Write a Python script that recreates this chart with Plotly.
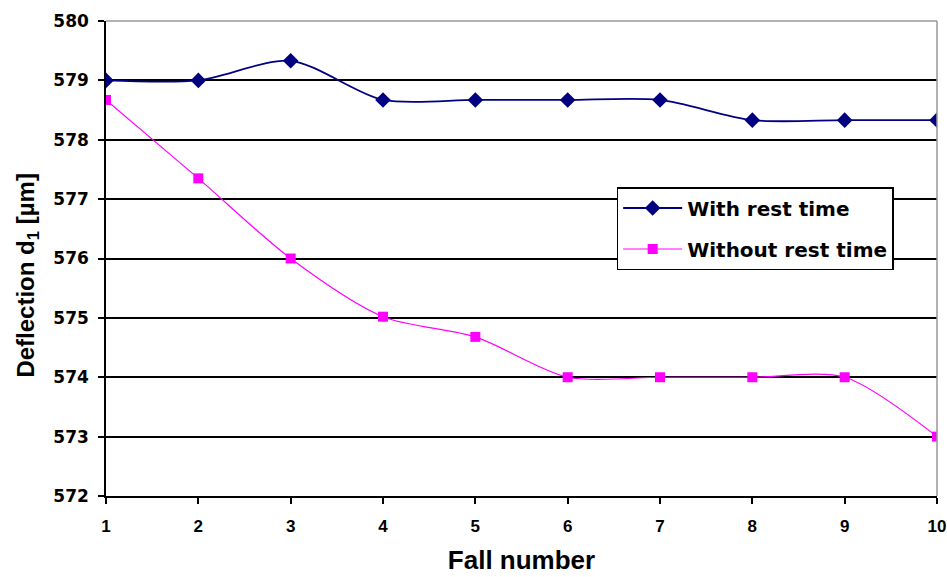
import plotly.graph_objects as go

fall_number = [1, 2, 3, 4, 5, 6, 7, 8, 9, 10]
with_rest = [579.0, 579.0, 579.33, 578.67, 578.67, 578.67, 578.67, 578.33, 578.33, 578.33]
without_rest = [578.67, 577.35, 576.0, 575.02, 574.68, 574.0, 574.0, 574.0, 574.0, 573.0]
y_ticks = [572, 573, 574, 575, 576, 577, 578, 579, 580]

FONT = "DejaVu Sans, Liberation Sans, Arial, sans-serif"
ARIAL = "Liberation Sans, Arial, sans-serif"

fig = go.Figure()
fig.add_trace(go.Scatter(
    x=fall_number, y=with_rest, name="With rest time", legendgroup="a",
    mode="lines+markers", line=dict(color="#000080", width=1.8, shape="spline", smoothing=0.8),
    marker=dict(symbol="diamond", size=12, color="#000080"),
))
fig.add_trace(go.Scatter(
    x=fall_number, y=without_rest, name="Without rest time", legendgroup="b",
    mode="lines+markers", line=dict(color="#ff00ff", width=1.2, shape="spline", smoothing=0.8),
    marker=dict(symbol="square", size=10, color="#ff00ff"),
))

fig.update_layout(
    width=947, height=577,
    margin=dict(l=106, r=10, t=21, b=81),
    paper_bgcolor="white", plot_bgcolor="white",
    font=dict(family=FONT, size=17, color="black", weight="bold"),
    showlegend=True,
    legend=dict(
        x=0.6145, y=0.6505, xanchor="left", yanchor="top",
        bordercolor="black", borderwidth=1.5, bgcolor="white",
        font=dict(size=20, family=FONT, weight="bold"),
        tracegroupgap=12, traceorder="grouped", itemwidth=59,
    ),
    xaxis=dict(
        range=[1, 10], tickvals=fall_number, ticktext=[str(v) for v in fall_number],
        showgrid=False, zeroline=False, automargin=False,
        showline=True, linecolor="black", linewidth=1.5,
        ticks="outside", ticklen=6, tickcolor="black", tickwidth=1.5,
        ticklabelstandoff=8, ticklabeloverflow="allow",
        title=dict(text="Fall number", font=dict(family=ARIAL, size=26, weight="bold"), standoff=16),
        tickfont=dict(family=ARIAL, size=17, weight="bold"),
    ),
    yaxis=dict(
        range=[572, 580], tickvals=y_ticks, ticktext=[str(v) for v in y_ticks],
        showgrid=True, gridcolor="black", gridwidth=1.5, zeroline=False, automargin=False,
        showline=True, linecolor="black", linewidth=1.5,
        ticks="outside", ticklen=6, tickcolor="black", tickwidth=1.5,
        ticklabelstandoff=6,
        tickfont=dict(size=17, weight="bold"),
    ),
)

# y-axis title (placed slightly below the axis centre, as in the original)
fig.add_annotation(
    text="Deflection d<sub>1</sub> [µm]", textangle=-90,
    xref="paper", yref="paper", x=-0.0945, y=0.465,
    xanchor="center", yanchor="middle", showarrow=False,
    font=dict(family=ARIAL, size=24, weight="bold", color="black"),
)

# gray frame on top and right
fig.add_shape(type="line", xref="paper", yref="paper", x0=0, x1=1, y0=1, y1=1,
              line=dict(color="#999999", width=1.5))
fig.add_shape(type="line", xref="paper", yref="paper", x0=1, x1=1, y0=0, y1=1,
              line=dict(color="#999999", width=1.5))

fig.write_html(
    "out.html",
    config={"displayModeBar": False},
    post_script="document.body.style.margin='0';document.body.style.overflow='hidden';",
)
